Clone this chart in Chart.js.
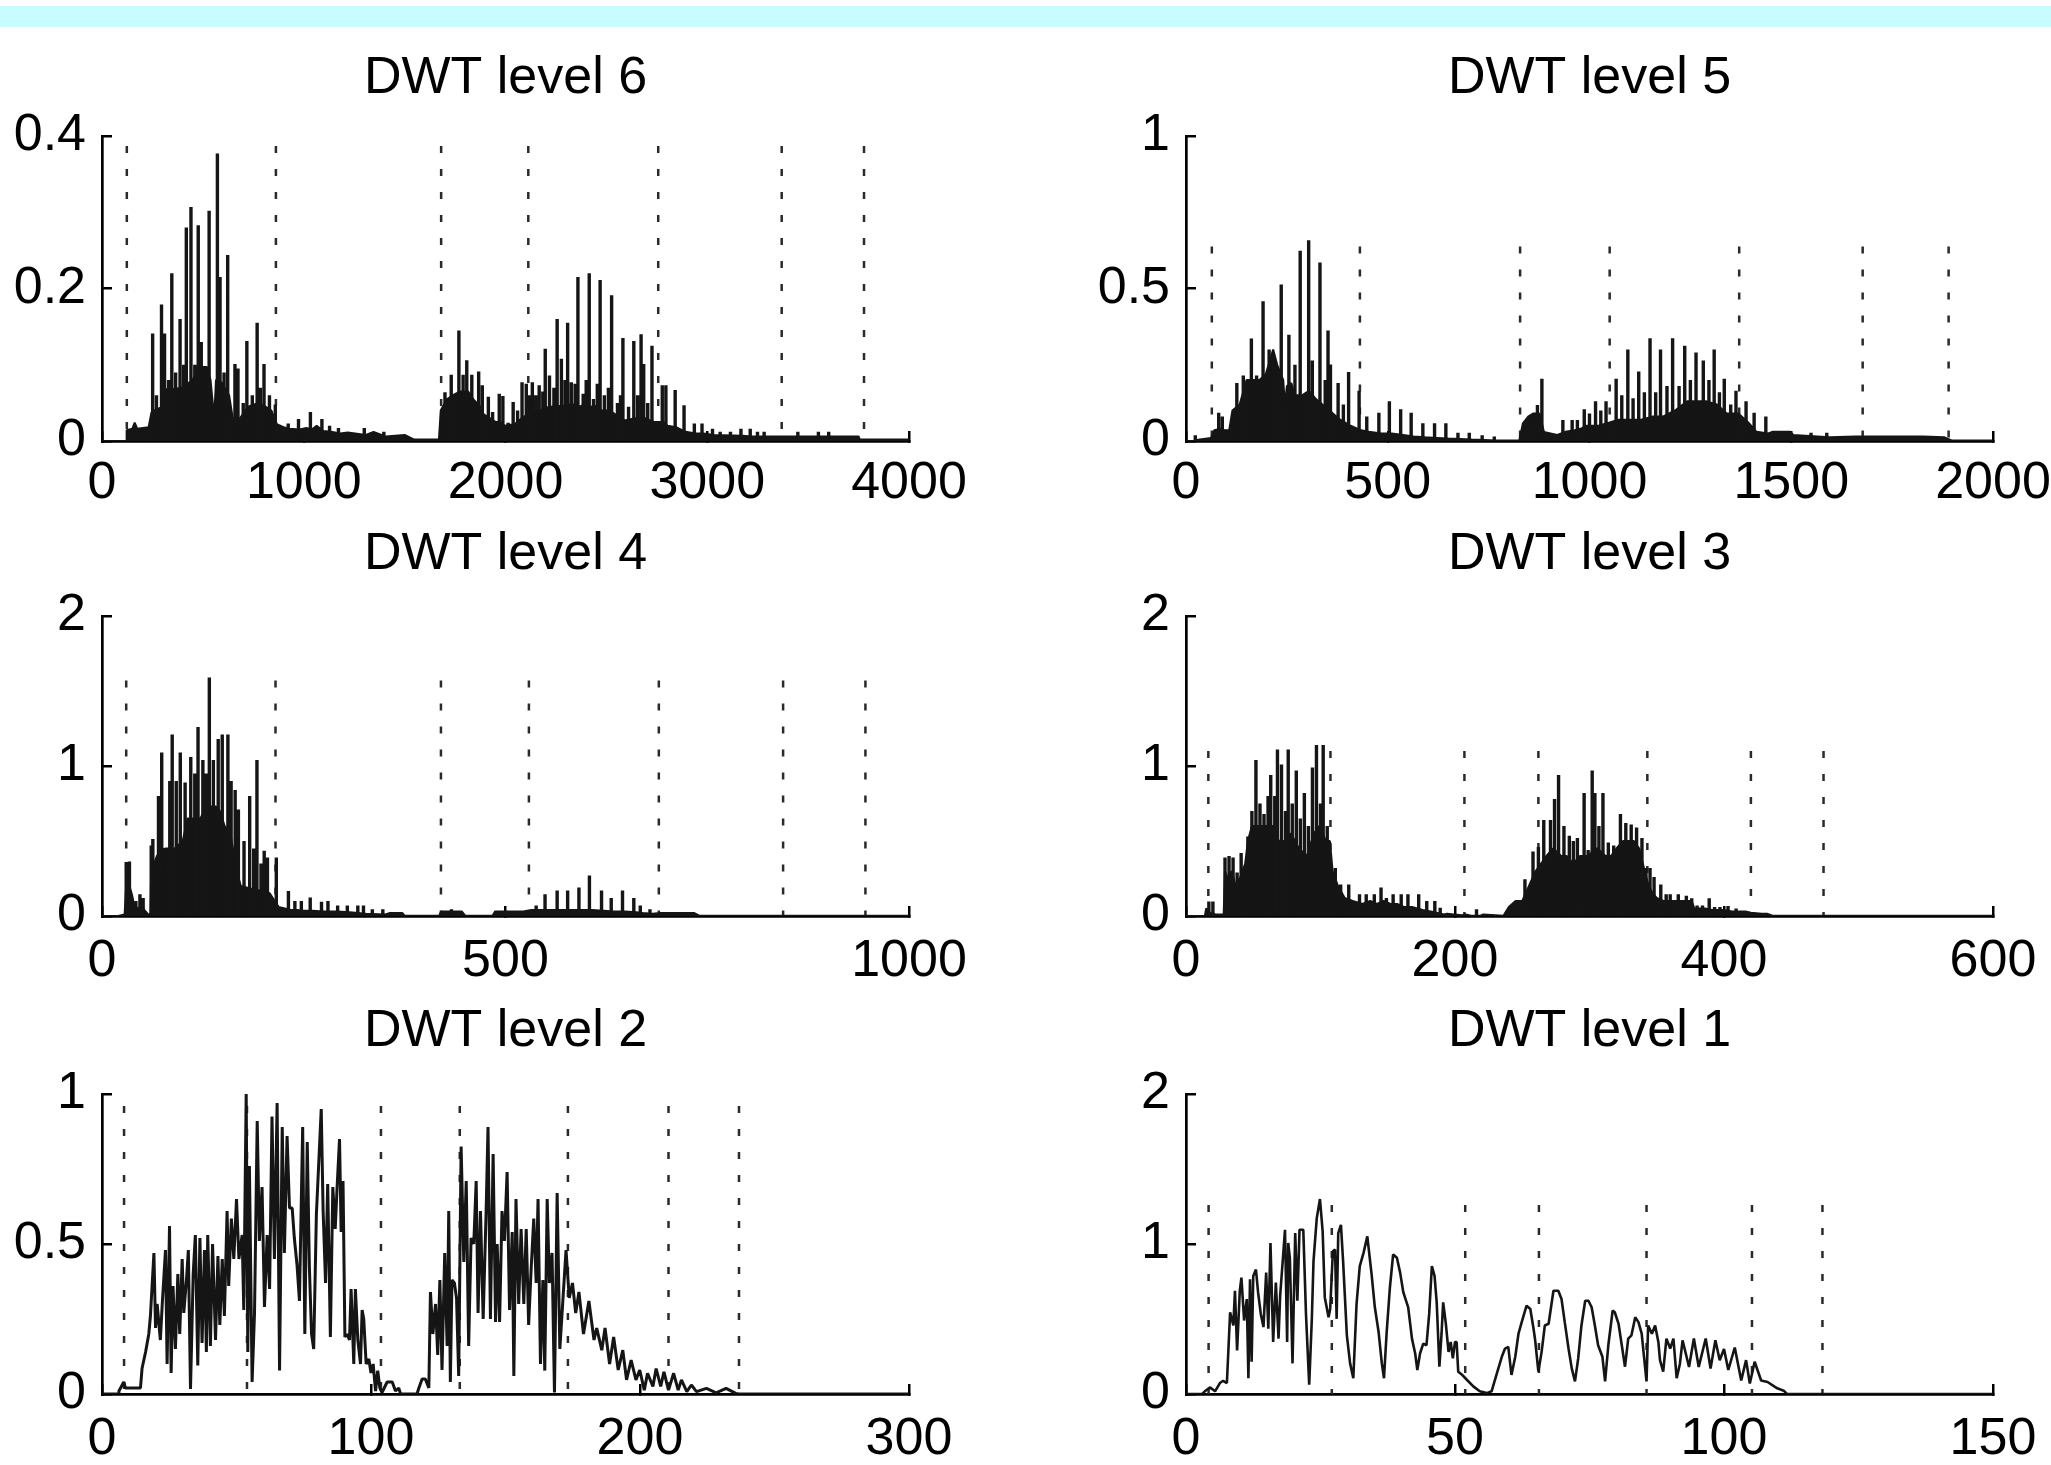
<!DOCTYPE html>
<html>
<head>
<meta charset="utf-8">
<script src="https://cdn.jsdelivr.net/npm/chart.js@4.4.1/dist/chart.umd.min.js"></script>
<style>
html, body { margin: 0; padding: 0; background: #fff; }
body { width: 2051px; height: 1465px; position: relative; overflow: hidden; }
#band { position: absolute; left: 0; top: 6px; width: 2051px; height: 21px; background: #c8fdff; }
canvas { position: absolute; }
</style>
</head>
<body>
<div id="band"></div>
<canvas id="c6" width="1025" height="470" style="left:0;top:30px"></canvas>
<canvas id="c5" width="1068" height="470" style="left:1025px;top:30px"></canvas>
<canvas id="c4" width="1025" height="480" style="left:0;top:500px"></canvas>
<canvas id="c3" width="1068" height="480" style="left:1025px;top:500px"></canvas>
<canvas id="c2" width="1025" height="485" style="left:0;top:980px"></canvas>
<canvas id="c1" width="1068" height="485" style="left:1025px;top:980px"></canvas>
<script>
// tick labels
const xTicks6 = [0, 1000, 2000, 3000, 4000];
const xTicks5 = [0, 500, 1000, 1500, 2000];
const xTicks4 = [0, 500, 1000];
const xTicks3 = [0, 200, 400, 600];
const xTicks2 = [0, 100, 200, 300];
const xTicks1 = [0, 50, 100, 150];
const yTicks6 = [0, 0.2, 0.4];
const yTicks5 = [0, 0.5, 1];
const yTicks4 = [0, 1, 2];
const yTicks3 = [0, 1, 2];
const yTicks2 = [0, 0.5, 1];
const yTicks1 = [0, 1, 2];

// dotted marker lines (x positions + height)
const marks6 = [123, 862, 1681, 2113, 2757, 3369, 3777];
const marks5 = [64, 431, 828, 1050, 1371, 1677, 1890];
const marks4 = [30, 215, 420, 529, 690, 844, 946];
const marks3 = [16.6, 107.4, 207, 262, 343, 420, 474];
const marks2 = [8.2, 53.9, 103.7, 133, 173.2, 210.6, 236.8];
const marks1 = [4.2, 27.1, 51.9, 65.6, 85.6, 105.2, 118.3];
const markTop6 = 0.387;
const markTop5 = 0.638;
const markTop4 = 1.57;
const markTop3 = 1.1;
const markTop2 = 0.96;
const markTop1 = 1.26;

// levels 6..3: dense solid body + tall stems
const body6 = [[0,0],[120,0],[122,0.014],[150,0.016],[162,0.024],[175,0.016],[231,0.018],[245,0.037],[258,0.04],[302,0.045],[318,0.068],[352,0.068],[394,0.07],[424,0.075],[448,0.08],[484,0.095],[500,0.097],[520,0.097],[538,0.08],[556,0.03],[565,0.08],[578,0.08],[592,0.077],[630,0.06],[648,0.03],[665,0.03],[682,0.029],[724,0.045],[775,0.05],[810,0.045],[840,0.04],[866,0.022],[900,0.018],[930,0.016],[980,0.015],[1013,0.017],[1040,0.015],[1064,0.02],[1097,0.013],[1135,0.012],[1180,0.01],[1218,0.011],[1308,0.008],[1346,0.012],[1405,0.006],[1500,0.008],[1545,0.002],[1670,0.002],[1679,0.04],[1710,0.055],[1740,0.06],[1776,0.065],[1815,0.065],[1840,0.055],[1875,0.045],[1892,0.035],[1922,0.03],[1950,0.025],[1975,0.025],[1995,0.02],[2045,0.022],[2090,0.032],[2110,0.034],[2140,0.038],[2175,0.04],[2205,0.044],[2225,0.045],[2263,0.046],[2285,0.046],[2315,0.048],[2335,0.048],[2366,0.045],[2392,0.048],[2422,0.045],[2445,0.046],[2476,0.04],[2500,0.04],[2533,0.037],[2560,0.032],[2590,0.027],[2643,0.03],[2692,0.03],[2733,0.025],[2784,0.025],[2802,0.02],[2848,0.018],[2892,0.012],[2943,0.01],[2981,0.01],[3033,0.008],[3174,0.007],[3220,0.006],[3300,0.006],[3456,0.006],[3610,0.006],[3750,0.006],[3756,0.002],[4000,0.002]];
const stems6 = [[251,0.141],[270,0.06],[295,0.179],[310,0.141],[330,0.08],[346,0.22],[365,0.09],[387,0.16],[405,0.1],[418,0.28],[441,0.307],[460,0.1],[477,0.283],[492,0.13],[531,0.302],[572,0.377],[585,0.215],[605,0.09],[623,0.244],[659,0.101],[674,0.095],[700,0.05],[718,0.131],[745,0.06],[769,0.155],[785,0.07],[803,0.101],[830,0.06],[859,0.048],[923,0.023],[974,0.029],[1033,0.038],[1090,0.029],[1128,0.02],[1172,0.017],[1300,0.017],[1397,0.012],[1700,0.064],[1731,0.087],[1769,0.145],[1790,0.087],[1808,0.106],[1833,0.087],[1867,0.091],[1885,0.073],[1915,0.058],[1936,0.038],[1969,0.062],[1987,0.059],[2013,0.024],[2038,0.051],[2060,0.04],[2082,0.077],[2103,0.075],[2120,0.06],[2133,0.077],[2150,0.06],[2167,0.073],[2185,0.065],[2197,0.121],[2218,0.086],[2240,0.07],[2256,0.16],[2277,0.108],[2295,0.08],[2308,0.155],[2326,0.077],[2345,0.075],[2359,0.215],[2385,0.062],[2400,0.08],[2415,0.22],[2436,0.055],[2455,0.075],[2469,0.211],[2490,0.06],[2510,0.07],[2526,0.191],[2555,0.05],[2570,0.06],[2582,0.135],[2610,0.045],[2636,0.131],[2655,0.06],[2672,0.14],[2685,0.101],[2705,0.05],[2726,0.125],[2777,0.073],[2795,0.073],[2841,0.067],[2885,0.047],[2936,0.023],[2974,0.023],[3026,0.016],[3064,0.012],[3115,0.012],[3167,0.016],[3213,0.016],[3249,0.012],[3282,0.012],[3449,0.012],[3551,0.012],[3602,0.012]];

const body5 = [[0,0],[20,0],[30,0.004],[62,0.01],[70,0.035],[86,0.04],[97,0.035],[107,0.035],[115,0.1],[133,0.12],[150,0.2],[168,0.2],[182,0.2],[198,0.22],[216,0.3],[226,0.25],[241,0.2],[245,0.118],[250,0.18],[261,0.19],[270,0.15],[288,0.15],[299,0.16],[309,0.16],[320,0.14],[338,0.12],[356,0.1],[364,0.09],[382,0.07],[408,0.05],[434,0.035],[453,0.03],[484,0.025],[510,0.025],[538,0.02],[564,0.015],[593,0.012],[622,0.01],[650,0.008],[708,0.005],[770,0.002],[826,0.002],[835,0.058],[848,0.08],[860,0.09],[876,0.09],[887,0.03],[920,0.02],[940,0.03],[963,0.035],[978,0.04],[993,0.05],[1005,0.05],[1022,0.05],[1048,0.06],[1072,0.07],[1100,0.07],[1128,0.07],[1156,0.08],[1182,0.08],[1212,0.1],[1242,0.13],[1270,0.13],[1290,0.13],[1316,0.12],[1340,0.09],[1369,0.09],[1394,0.06],[1414,0.03],[1443,0.025],[1453,0.03],[1498,0.03],[1505,0.02],[1595,0.012],[1659,0.015],[1826,0.015],[1880,0.012],[1897,0.002],[2000,0.002]];
const stems5 = [[23,0.019],[81,0.093],[90,0.08],[126,0.19],[142,0.215],[162,0.336],[175,0.215],[191,0.458],[206,0.3],[236,0.513],[255,0.348],[270,0.25],[283,0.624],[294,0.155],[304,0.658],[313,0.264],[332,0.585],[345,0.2],[352,0.362],[358,0.251],[377,0.19],[390,0.12],[403,0.226],[429,0.165],[448,0.08],[478,0.093],[504,0.13],[532,0.104],[558,0.093],[587,0.058],[616,0.058],[644,0.058],[674,0.027],[702,0.027],[734,0.019],[764,0.015],[871,0.118],[882,0.204],[934,0.069],[957,0.069],[970,0.069],[987,0.104],[1000,0.09],[1015,0.13],[1028,0.1],[1041,0.13],[1066,0.204],[1080,0.15],[1095,0.3],[1108,0.14],[1122,0.228],[1136,0.16],[1150,0.337],[1164,0.16],[1176,0.3],[1192,0.18],[1206,0.337],[1222,0.18],[1236,0.312],[1250,0.2],[1264,0.29],[1282,0.264],[1296,0.2],[1309,0.3],[1322,0.16],[1334,0.204],[1350,0.12],[1363,0.165],[1388,0.13],[1408,0.093],[1437,0.08],[1549,0.027],[1588,0.027]];

const body4 = [[0,0],[20,0],[28,0.01],[30,0.2],[34,0.2],[37,0.145],[40,0.07],[45,0.05],[49,0.06],[54,0.03],[58,0.005],[60,0.02],[61,0.3],[68,0.4],[77,0.45],[84,0.4],[90,0.45],[100,0.5],[106,0.65],[114,0.65],[122,0.65],[129,0.73],[136,0.73],[141,0.73],[146,0.7],[152,0.6],[159,0.55],[167,0.3],[172,0.2],[186,0.18],[195,0.17],[203,0.17],[208,0.15],[219,0.06],[234,0.04],[242,0.04],[250,0.035],[261,0.035],[275,0.03],[283,0.03],[292,0.03],[307,0.025],[327,0.015],[351,0.01],[357,0.02],[372,0.02],[375,0.002],[418,0.002],[420,0.03],[446,0.03],[450,0.002],[484,0.002],[487,0.03],[522,0.03],[532,0.04],[541,0.04],[552,0.04],[567,0.04],[580,0.04],[594,0.04],[607,0.04],[622,0.035],[634,0.03],[648,0.03],[662,0.025],[670,0.02],[682,0.015],[692,0.02],[734,0.02],[740,0.002],[1000,0.002]];
const stems4 = [[30,0.36],[34,0.363],[42,0.1],[47,0.145],[51,0.12],[61,0.47],[63,0.513],[70,0.8],[74,1.09],[80,0.457],[84,0.9],[87,1.21],[92,0.9],[97,1.09],[103,0.89],[110,1.06],[115,0.95],[119,1.26],[125,1.04],[129,0.95],[133,1.59],[138,1.04],[144,1.18],[149,1.21],[156,1.21],[160,0.9],[165,0.84],[169,0.71],[176,0.5],[183,0.8],[188,0.45],[192,1.04],[197,0.35],[201,0.435],[205,0.39],[216,0.39],[231,0.167],[239,0.1],[247,0.1],[258,0.123],[272,0.095],[280,0.1],[292,0.07],[304,0.07],[317,0.07],[324,0.07],[335,0.045],[348,0.045],[433,0.045],[538,0.07],[549,0.145],[564,0.17],[577,0.17],[591,0.19],[604,0.27],[619,0.17],[631,0.12],[645,0.17],[659,0.12],[667,0.07],[679,0.045]];

const body3 = [[0,0],[14,0],[15,0.05],[18,0.02],[22,0.01],[28,0.01],[29,0.3],[31,0.25],[34,0.3],[37,0.2],[40,0.25],[44,0.35],[46,0.5],[49,0.6],[54,0.6],[60,0.6],[65,0.6],[69,0.5],[73,0.5],[78,0.55],[84,0.45],[90,0.4],[95,0.55],[99,0.6],[104,0.5],[107,0.5],[109,0.3],[113,0.2],[118,0.12],[124,0.1],[131,0.08],[137,0.1],[142,0.08],[147,0.1],[152,0.08],[157,0.08],[162,0.06],[168,0.06],[176,0.04],[182,0.03],[187,0.02],[192,0.01],[194,0.015],[205,0.005],[208,0.01],[212,0.002],[219,0.002],[221,0.01],[236,0.002],[240,0.06],[245,0.1],[250,0.1],[255,0.2],[260,0.3],[264,0.35],[268,0.4],[273,0.45],[279,0.4],[283,0.4],[288,0.35],[293,0.4],[297,0.4],[300,0.4],[303,0.45],[306,0.45],[312,0.4],[316,0.4],[320,0.45],[325,0.5],[329,0.5],[333,0.5],[337,0.45],[341,0.3],[344,0.2],[347,0.15],[350,0.12],[355,0.1],[362,0.1],[369,0.1],[376,0.1],[378,0.05],[386,0.05],[391,0.04],[400,0.04],[406,0.03],[416,0.03],[420,0.022],[428,0.015],[432,0.015],[436,0.002],[600,0.002]];
const stems3 = [[17,0.096],[20,0.096],[29,0.39],[32,0.4],[35,0.39],[38,0.29],[41,0.42],[46,0.53],[49,0.7],[52,1.04],[55,0.75],[58,0.68],[61,0.8],[63,0.94],[66,0.8],[68,1.11],[71,1.01],[74,0.7],[76,1.11],[79,0.75],[82,0.97],[85,0.65],[88,0.82],[91,0.6],[94,0.99],[97,1.14],[100,0.75],[102,1.14],[105,0.6],[111,0.32],[115,0.21],[121,0.21],[129,0.145],[134,0.145],[140,0.145],[145,0.19],[149,0.12],[154,0.145],[160,0.145],[165,0.145],[173,0.145],[179,0.1],[185,0.1],[189,0.055],[216,0.045],[252,0.245],[258,0.43],[262,0.46],[266,0.64],[271,0.64],[274,0.78],[277,0.94],[281,0.6],[285,0.535],[288,0.5],[291,0.52],[296,0.82],[299,0.44],[302,0.97],[304,0.82],[307,0.6],[310,0.82],[314,0.49],[318,0.47],[323,0.68],[327,0.62],[331,0.61],[335,0.59],[339,0.52],[342,0.32],[345,0.32],[348,0.26],[353,0.21],[357,0.145],[360,0.145],[366,0.145],[372,0.135],[376,0.118],[380,0.07],[384,0.07],[389,0.118],[393,0.06],[397,0.06],[403,0.066],[409,0.05]];

// levels 2 and 1: plain traces
const dwt2 = [[0,0],[6,0],[6.3,0.01],[8.1,0.04],[8.7,0.02],[14.3,0.02],[14.9,0.086],[16.2,0.14],[17.4,0.2],[18,0.26],[19.3,0.47],[19.9,0.22],[20.5,0.3],[21.7,0.18],[22.4,0.3],[23.6,0.48],[24.2,0.1],[25.1,0.56],[25.7,0.07],[26.4,0.36],[27.3,0.15],[28.2,0.4],[28.9,0.2],[29.8,0.45],[30.4,0.27],[31.4,0.38],[32.1,0.48],[32.9,0.017],[33.9,0.4],[34.7,0.53],[35.6,0.095],[36.4,0.52],[37.2,0.17],[38.1,0.48],[38.8,0.14],[39.3,0.53],[40.3,0.16],[41.1,0.5],[42.2,0.18],[43.1,0.46],[43.8,0.23],[44.7,0.45],[45.5,0.26],[46.5,0.61],[47.1,0.36],[48.1,0.585],[49,0.45],[50,0.65],[50.9,0.45],[52.1,0.53],[52.7,0.28],[53.6,1.0],[54.2,0.14],[54.8,0.76],[55.8,0.04],[56.7,0.27],[57.7,0.91],[58.5,0.51],[59.5,0.69],[60.4,0.29],[61.4,0.53],[62.3,0.35],[63.2,0.925],[64.1,0.45],[65.1,0.97],[66,0.078],[67,0.89],[67.8,0.47],[68.8,0.86],[69.7,0.62],[70.7,0.62],[71.5,0.52],[72.5,0.43],[73.4,0.31],[74.6,0.89],[75.4,0.2],[76.3,0.84],[77.1,0.42],[77.9,0.2],[78.7,0.15],[79.7,0.6],[80.6,0.775],[81.5,0.95],[82.2,0.61],[83.1,0.37],[83.9,0.7],[84.9,0.19],[85.8,0.69],[86.7,0.55],[87.4,0.69],[88.3,0.85],[88.9,0.54],[89.6,0.71],[90.3,0.19],[91.1,0.2],[92,0.18],[92.6,0.35],[93.6,0.1],[94.2,0.35],[95.1,0.18],[96.1,0.1],[96.7,0.28],[97.3,0.25],[98.2,0.1],[99.2,0.117],[100,0.07],[100.8,0.1],[101.7,0.01],[102.5,0.078],[103.3,0.02],[104.1,0.005],[106,0.04],[107.9,0.04],[109.1,0.01],[110.3,0.02],[111,0],[117.1,0],[117.8,0.02],[119,0.05],[120.2,0.05],[121.5,0.02],[122.1,0.34],[123,0.2],[124,0.3],[124.8,0.13],[125.6,0.38],[126.4,0.08],[127.4,0.47],[128.3,0.16],[128.9,0.61],[129.5,0.04],[130.1,0.38],[131,0.37],[131.8,0.32],[132.6,0.06],[133.5,0.825],[134.5,0.44],[135.4,0.71],[136.3,0.16],[137.2,0.52],[138.2,0.5],[139.1,0.71],[139.8,0.27],[140.7,0.61],[141.7,0.25],[142.8,0.61],[143.5,0.89],[144.4,0.25],[145.4,0.8],[146.3,0.24],[146.9,0.5],[147.8,0.24],[148.7,0.61],[149.6,0.51],[150.6,0.74],[151.5,0.28],[152.5,0.54],[153.1,0.06],[153.9,0.65],[154.9,0.3],[155.8,0.55],[156.8,0.3],[157.7,0.55],[158.6,0.23],[159.5,0.41],[160.5,0.585],[161.4,0.37],[162.1,0.65],[163,0.1],[163.9,0.38],[164.6,0.078],[165.5,0.65],[166.3,0.37],[167.3,0.47],[168.2,0.005],[169.2,0.67],[170.2,0.15],[172.5,0.48],[173.7,0.32],[174.9,0.37],[176.1,0.27],[177.3,0.34],[179,0.2],[181,0.31],[182.9,0.18],[183.9,0.22],[185.8,0.146],[187,0.22],[188.7,0.1],[190.2,0.19],[191.9,0.08],[193.6,0.146],[195,0.047],[196.7,0.113],[198.5,0.047],[199.9,0.08],[201.6,0.013],[202.8,0.069],[204.8,0.025],[206,0.085],[207.7,0.025],[208.9,0.074],[210.6,0.013],[212.5,0.069],[214.2,0.013],[215.4,0.047],[217.4,0.008],[219.1,0.03],[221,0.008],[224.7,0.019],[228.3,0.004],[232,0.019],[235.6,0.002],[236.8,0],[300,0]];

const dwt1 = [[0,0],[3,0],[3.5,0.018],[4.5,0.044],[5.4,0.018],[6.3,0.073],[6.9,0.088],[7.6,0.073],[8.2,0.545],[8.8,0.457],[9.1,0.688],[9.5,0.29],[10,0.688],[10.3,0.776],[10.8,0.49],[11.3,0.633],[11.6,0.105],[11.9,0.765],[12.2,0.215],[12.5,0.787],[13,0.83],[13.4,0.677],[13.9,0.534],[14.4,0.446],[14.9,0.809],[15.3,0.435],[15.7,1.007],[16.2,0.347],[16.7,0.743],[17.2,0.369],[17.5,0.655],[18,0.897],[18.4,1.095],[18.8,0.347],[19,1.007],[19.3,0.908],[19.8,0.204],[20.3,1.073],[20.7,0.622],[21.1,1.095],[21.8,1.095],[22.3,0.534],[22.9,0.062],[23.4,0.512],[23.7,0.886],[24.3,1.171],[24.9,1.3],[25.4,1.084],[25.8,0.644],[26.5,0.512],[26.8,0.567],[27.3,0.952],[27.7,0.963],[28,0.501],[28.3,1.073],[28.8,1.127],[29.2,0.886],[29.9,0.391],[30.5,0.204],[31.1,0.105],[31.7,0.6],[32.3,0.853],[33,0.941],[33.7,1.051],[34.5,0.798],[35.1,0.578],[35.8,0.413],[36.4,0.204],[36.8,0.105],[37.3,0.413],[37.9,0.71],[38.5,0.93],[39.2,0.908],[39.8,0.809],[40.4,0.677],[41.3,0.578],[42,0.369],[42.6,0.27],[43,0.16],[43.5,0.27],[44.1,0.336],[44.7,0.325],[45.2,0.534],[45.7,0.853],[46.2,0.787],[46.6,0.611],[47.1,0.182],[47.5,0.402],[47.8,0.611],[48.3,0.468],[48.8,0.281],[49.2,0.347],[49.6,0.237],[50,0.347],[50.3,0.347],[50.6,0.149],[51.2,0.132],[52.2,0.095],[53.4,0.051],[54.6,0.018],[55.9,0.006],[56.8,0.018],[57.7,0.127],[58.7,0.248],[59.3,0.303],[59.9,0.314],[60.5,0.127],[61.2,0.248],[61.8,0.402],[62.4,0.479],[63.3,0.589],[64,0.567],[64.6,0.435],[64.9,0.358],[65.5,0.149],[66.1,0.281],[66.7,0.457],[67.4,0.468],[68.3,0.688],[69.2,0.688],[69.8,0.633],[70.4,0.479],[71.1,0.303],[71.7,0.171],[72.3,0.084],[72.9,0.237],[73.5,0.457],[74.2,0.622],[74.8,0.622],[75.4,0.578],[76,0.457],[76.6,0.325],[77.4,0.248],[77.9,0.084],[78.5,0.325],[79.3,0.556],[79.7,0.545],[80.4,0.468],[81,0.325],[81.6,0.182],[82.2,0.369],[82.8,0.391],[83.5,0.512],[84.1,0.479],[84.7,0.402],[85.1,0.259],[85.6,0.084],[85.9,0.457],[86.6,0.402],[87.2,0.457],[87.8,0.347],[88.1,0.226],[88.7,0.149],[89.3,0.369],[90,0.303],[90.6,0.369],[91.2,0.105],[91.8,0.2],[92.3,0.358],[93.5,0.18],[94.4,0.37],[95.3,0.18],[96.6,0.37],[97.5,0.17],[98.4,0.358],[99.2,0.225],[100,0.3],[100.8,0.16],[102,0.31],[103.2,0.09],[104.1,0.226],[104.8,0.07],[105.7,0.215],[106.9,0.09],[108.1,0.08],[109.9,0.038],[111.1,0.022],[111.7,0],[150,0]];

const FONT = '"Liberation Sans", Arial, Helvetica, sans-serif';
Chart.defaults.font.family = FONT;
Chart.defaults.color = '#000';

// layout of the 2x3 grid
const rows = [
    { titleTop: 23, titleBottom: 31, xHeight: 59, xPad: 27 },
    { titleTop: 29, titleBottom: 35, xHeight: 64, xPad: 30 },
    { titleTop: 26, titleBottom: 36, xHeight: 71, xPad: 30 }
];
const cols = [
    { yWidth: 102, padRight: 116 },
    { yWidth: 161, padRight: 100 }
];

const INK = '#151515';

function drawPanel(id, title, trace, stems, marks, markTop, xTicks, yTicks, row, col) {
    const datasets = [];
    if (stems) {
        // stems: vertical strokes from 0 to the value, broken by gaps
        datasets.push({
            data: stems.flatMap(([x, h]) => [[x, 0], [x, h], [x, null]]),
            borderColor: INK,
            borderWidth: 3.4,
            borderCapStyle: 'butt',
            spanGaps: false,
            fill: false,
            pointRadius: 0
        });
        datasets.push({
            data: trace,
            borderColor: INK,
            backgroundColor: INK,
            borderWidth: 2,
            borderJoinStyle: 'bevel',
            fill: 'origin',
            pointRadius: 0
        });
    } else {
        datasets.push({
            data: trace,
            borderColor: INK,
            borderWidth: id === 'c2' ? 3 : 2.6,
            borderJoinStyle: 'bevel',
            fill: false,
            pointRadius: 0
        });
    }
    marks.forEach(x => {
        datasets.push({
            data: [[x, markTop], [x, 0]],
            borderColor: '#2a2a2a',
            borderWidth: 2.5,
            borderDash: [7, 16],
            fill: false,
            pointRadius: 0
        });
    });

    const tickFont = { size: 52, lineHeight: 1 };
    new Chart(document.getElementById(id), {
        type: 'line',
        data: { datasets },
        options: {
            responsive: false,
            animation: false,
            events: [],
            layout: { padding: { left: 0, right: col.padRight, top: 0, bottom: 0 } },
            plugins: {
                legend: { display: false },
                tooltip: { enabled: false },
                title: {
                    display: true,
                    text: title,
                    fullSize: false,
                    color: '#000',
                    font: { size: 52, weight: 'normal', lineHeight: 1 },
                    padding: { top: row.titleTop, bottom: row.titleBottom }
                }
            },
            scales: {
                x: {
                    type: 'linear',
                    min: xTicks[0],
                    max: xTicks[xTicks.length - 1],
                    afterBuildTicks: s => { s.ticks = xTicks.map(v => ({ value: v })); },
                    afterFit: s => { s.height = row.xHeight; },
                    border: { display: true, color: '#000', width: 2.7 },
                    grid: { display: true, drawOnChartArea: false, drawTicks: true, tickLength: -10, color: '#000', lineWidth: 2.5 },
                    ticks: { padding: row.xPad, maxRotation: 0, autoSkip: false, color: '#000', font: tickFont, callback: v => String(v) }
                },
                y: {
                    type: 'linear',
                    min: yTicks[0],
                    max: yTicks[yTicks.length - 1],
                    afterBuildTicks: s => { s.ticks = yTicks.map(v => ({ value: v })); },
                    afterFit: s => { s.width = col.yWidth; },
                    border: { display: true, color: '#000', width: 2.7 },
                    grid: { display: true, drawOnChartArea: false, drawTicks: true, tickLength: -10, color: '#000', lineWidth: 2.5 },
                    ticks: { padding: 26, autoSkip: false, color: '#000', font: tickFont, callback: v => String(v) }
                }
            }
        }
    });
}

drawPanel('c6', 'DWT level 6', body6, stems6, marks6, markTop6, xTicks6, yTicks6, rows[0], cols[0]);
drawPanel('c5', 'DWT level 5', body5, stems5, marks5, markTop5, xTicks5, yTicks5, rows[0], cols[1]);
drawPanel('c4', 'DWT level 4', body4, stems4, marks4, markTop4, xTicks4, yTicks4, rows[1], cols[0]);
drawPanel('c3', 'DWT level 3', body3, stems3, marks3, markTop3, xTicks3, yTicks3, rows[1], cols[1]);
drawPanel('c2', 'DWT level 2', dwt2, null, marks2, markTop2, xTicks2, yTicks2, rows[2], cols[0]);
drawPanel('c1', 'DWT level 1', dwt1, null, marks1, markTop1, xTicks1, yTicks1, rows[2], cols[1]);
</script>
</body>
</html>
